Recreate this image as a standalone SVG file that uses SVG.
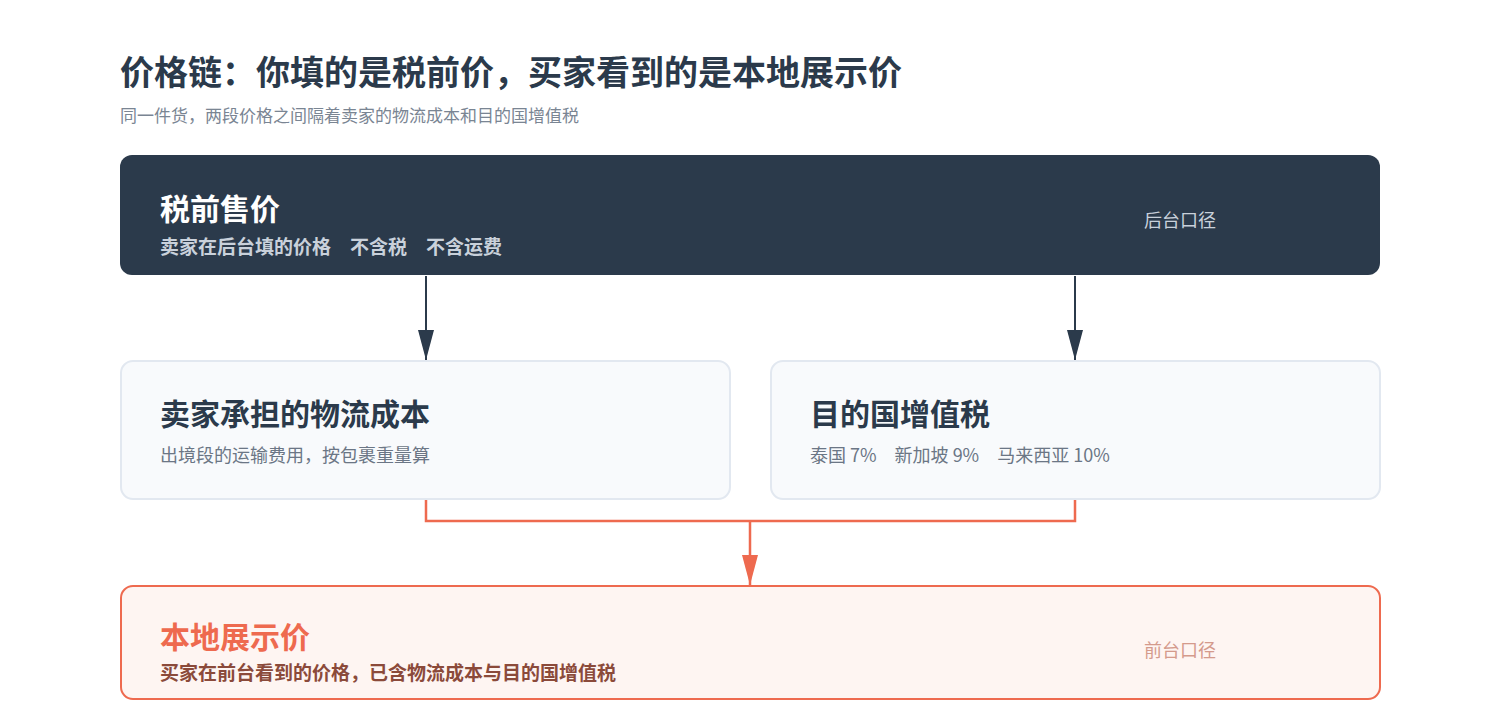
<svg xmlns="http://www.w3.org/2000/svg" width="1500" height="720" viewBox="0 0 1500 720">
<style>
text{font-family:"Noto Sans CJK SC","Noto Sans",sans-serif}
.t{font-size:30px;font-weight:700}
.s{font-size:19px;font-weight:700}
.r{font-size:18px}
.card{fill:#f8fafc;stroke:#e2e8f0;stroke-width:2}
.dk{stroke:#2b3a4b;stroke-width:2;fill:none}
.or{stroke:#ee6a4f;stroke-width:2.5;fill:none}
</style>
<defs>
<marker id="ad" viewBox="0 0 30 16" refX="30" refY="8" markerWidth="30" markerHeight="16" markerUnits="userSpaceOnUse" orient="auto"><path d="M0 0L30 8L0 16Z" fill="#2b3a4b"/></marker>
<marker id="ao" viewBox="0 0 30 16" refX="30" refY="8" markerWidth="30" markerHeight="16" markerUnits="userSpaceOnUse" orient="auto"><path d="M0 0L30 8L0 16Z" fill="#ee6a4f"/></marker>
</defs>
<rect width="1500" height="720" fill="#fff"/>
<text x="120" y="85" font-size="34" font-weight="700" fill="#2b3a4b">价格链：你填的是税前价，买家看到的是本地展示价</text>
<text x="120" y="122" font-size="17" fill="#7a8593">同一件货，两段价格之间隔着卖家的物流成本和目的国增值税</text>
<g id="connectors">
<path class="dk" d="M426 276V360" marker-end="url(#ad)"/>
<path class="dk" d="M1075 276V360" marker-end="url(#ad)"/>
<path class="or" d="M426 500V521H1075V500M750 521V585" marker-end="url(#ao)"/>
</g>
<g id="pretax">
<rect x="120" y="155" width="1260" height="120" rx="12" fill="#2b3a4b"/>
<text x="160" y="220" class="t" fill="#fff">税前售价</text>
<text x="160" y="254" class="s" fill="#c9d1db">卖家在后台填的价格　不含税　不含运费</text>
<text x="1180" y="227" class="r" fill="#c9d1db" text-anchor="middle">后台口径</text>
</g>
<g id="logistics">
<rect x="121" y="361" width="609" height="138" rx="12" class="card"/>
<text x="160" y="425" class="t" fill="#2b3a4b">卖家承担的物流成本</text>
<text x="160" y="462" class="r" fill="#6b7685">出境段的运输费用，按包裹重量算</text>
</g>
<g id="vat">
<rect x="771" y="361" width="609" height="138" rx="12" class="card"/>
<text x="810" y="425" class="t" fill="#2b3a4b">目的国增值税</text>
<text x="810" y="462" class="r" fill="#6b7685">泰国 7%　新加坡 9%　马来西亚 10%</text>
</g>
<g id="local">
<rect x="121" y="586" width="1259" height="113" rx="12" fill="#fef5f2" stroke="#ee6a4f" stroke-width="2"/>
<text x="160" y="648" class="t" fill="#ee6a4f">本地展示价</text>
<text x="160" y="680" class="s" fill="#8b4a3a">买家在前台看到的价格，已含物流成本与目的国增值税</text>
<text x="1180" y="657" class="r" fill="#d49a8c" text-anchor="middle">前台口径</text>
</g>
</svg>
